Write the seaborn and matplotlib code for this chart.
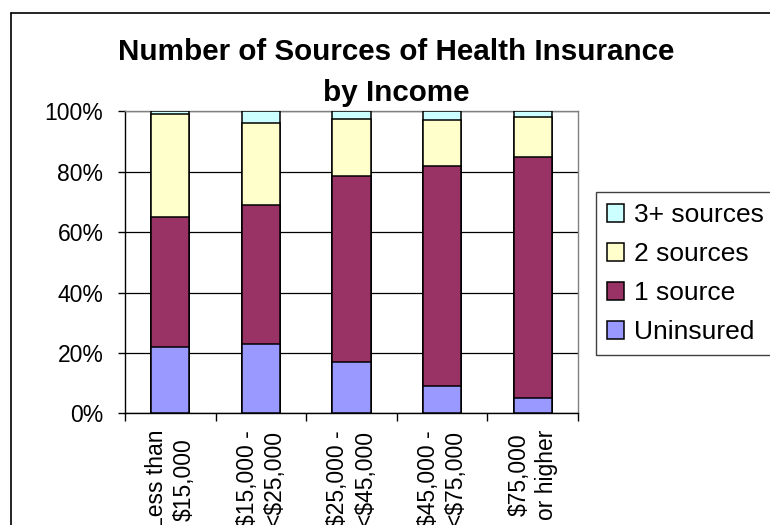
import numpy as np
import pandas as pd
import matplotlib
matplotlib.use("Agg")
import matplotlib.pyplot as plt
from matplotlib.lines import Line2D
from matplotlib.ticker import PercentFormatter
import seaborn as sns

sns.set_style("white")
plt.rcParams['font.family'] = ['Liberation Sans', 'DejaVu Sans']
plt.rcParams['text.parse_math'] = False
plt.rcParams['text.color'] = 'black'
plt.rcParams['xtick.color'] = 'black'
plt.rcParams['ytick.color'] = 'black'

# income groups and share (%) of people in each insurance group
income = ["Less than\n$15,000", "$15,000 -\n<$25,000", "$25,000 -\n<$45,000",
          "$45,000 -\n<$75,000", "$75,000\nor higher"]
uninsured = [22, 23, 17, 9, 5]
one_source = [43, 46, 61.5, 73, 80]
two_sources = [34, 27, 19, 15, 13]
three_plus = [1, 4, 2.5, 3, 2]

df = pd.DataFrame({"income": income, "Uninsured": uninsured, "1 source": one_source,
                   "2 sources": two_sources, "3+ sources": three_plus})
layers = ["Uninsured", "1 source", "2 sources", "3+ sources"]
colors = {"Uninsured": "#9999FF", "1 source": "#993366",
          "2 sources": "#FFFFCC", "3+ sources": "#CCFFFF"}
cum = df[layers].cumsum(axis=1)

fig = plt.figure(figsize=(7.7, 5.25), dpi=100)
ax = fig.add_axes([125 / 770, 1 - 413.3 / 525, (578 - 125) / 770, (413.3 - 111.3) / 525])

# stacked bars: draw cumulative totals from the top layer down
for name in reversed(layers):
    sns.barplot(x=df["income"], y=cum[name], color=colors[name], saturation=1,
                width=0.42, edgecolor="black", linewidth=1.1, label=name, ax=ax, zorder=3)

ax.set_ylim(0, 100)
ax.set_xlim(-0.5, 4.5)
ax.set_yticks(np.arange(0, 101, 20))
ax.yaxis.set_major_formatter(PercentFormatter(100, decimals=0))
ax.set_xlabel("")
ax.set_ylabel("")
ax.yaxis.grid(True, color="black", linewidth=0.9, zorder=0)
ax.set_axisbelow(True)

for s in ["left", "bottom"]:
    ax.spines[s].set_color("black")
    ax.spines[s].set_linewidth(1.0)
for s in ["top", "right"]:
    ax.spines[s].set_color("#808080")
    ax.spines[s].set_linewidth(1.0)

ax.tick_params(axis="y", which="major", direction="out", length=5, width=1.0,
               color="black", pad=10.5, labelsize=16.5, left=True)
ax.set_xticks(np.arange(-0.5, 5, 1), minor=True)
ax.tick_params(axis="x", which="major", length=0, pad=12, labelsize=16.5, bottom=True)
ax.tick_params(axis="x", which="minor", direction="out", length=5.8, width=1.0,
               color="black", bottom=True)
for lab in ax.get_xticklabels():
    lab.set_rotation(90)
    lab.set_ha("center")
    lab.set_va("top")
    lab.set_multialignment("center")
    lab.set_linespacing(1.25)

fig.text(396 / 770, 1 - 38 / 525, "Number of Sources of Health Insurance\nby Income",
         ha="center", va="top", fontsize=21.3, fontweight="bold", linespacing=1.6)

leg = ax.legend(loc="upper left", bbox_to_anchor=(596 / 770, 1 - 192 / 525),
                bbox_transform=fig.transFigure, fontsize=19, frameon=True, fancybox=False,
                edgecolor="#404040", framealpha=1, handlelength=0.64, handleheight=0.64,
                handletextpad=0.38, labelspacing=0.57, borderpad=0.42, borderaxespad=0)
leg.get_frame().set_linewidth(1.0)

# outer chart-area frame (left and top edges visible)
fig.add_artist(Line2D([10.7 / 770, 10.7 / 770], [0, 1 - 13.3 / 525], color="black", lw=1.2))
fig.add_artist(Line2D([10.7 / 770, 1], [1 - 13.3 / 525, 1 - 13.3 / 525], color="black", lw=1.2))

fig.savefig("out.png", dpi=100)
